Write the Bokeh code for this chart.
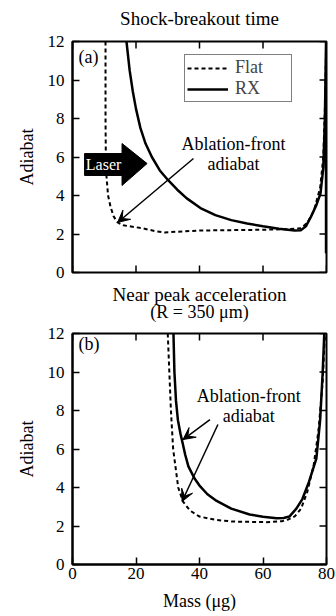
from bokeh.plotting import figure
from bokeh.models import Legend, LegendItem, Label, Arrow, VeeHead, FixedTicker
from bokeh.layouts import column
from bokeh.embed import file_html
from bokeh.resources import INLINE

FONT = "Liberation Serif"

# ---------------- data ----------------
x_ticks = [0, 20, 40, 60, 80]
y_ticks = [0, 2, 4, 6, 8, 10, 12]

# (a) Shock-breakout time
a_flat_mass = [10.4, 10.4, 10.5, 10.7, 11.2, 12.0, 13.0, 14.2, 16.0, 18.0, 22.0, 26.0,
               29.0, 33.0, 40.0, 50.0, 60.0, 68.0, 72.0, 74.0, 76.0, 78.0, 79.0, 79.6, 79.9]
a_flat_adiabat = [12.0, 8.0, 6.0, 5.0, 4.0, 3.4, 2.9, 2.6, 2.45, 2.4, 2.3, 2.15,
                  2.08, 2.12, 2.18, 2.2, 2.22, 2.25, 2.3, 2.6, 3.2, 4.4, 6.0, 9.0, 12.0]
a_rx_mass = [17.0, 18.0, 19.0, 20.0, 21.4, 23.0, 25.0, 27.5, 30.2, 33.0, 36.0, 40.3,
             45.0, 50.0, 55.0, 60.0, 65.0, 70.0, 72.0, 73.5, 75.0, 76.8, 78.1, 79.0,
             79.5, 79.85, 79.85]
a_rx_adiabat = [12.0, 10.5, 9.4, 8.5, 7.5, 6.7, 6.0, 5.3, 4.78, 4.3, 3.85, 3.35,
                2.98, 2.72, 2.55, 2.4, 2.27, 2.18, 2.2, 2.4, 2.86, 3.5, 4.1, 5.45,
                8.0, 12.0, 1.0]

# (b) Near peak acceleration (R = 350 um)
b_flat_mass = [30.0, 30.5, 31.0, 31.7, 33.3, 34.8, 37.0, 40.0, 45.0, 50.5, 61.0, 66.0,
               68.0, 70.0, 72.0, 74.0, 76.0, 77.5, 78.8, 79.5]
b_flat_adiabat = [12.0, 10.0, 8.0, 6.0, 4.0, 3.27, 2.8, 2.49, 2.32, 2.23, 2.2, 2.25,
                  2.34, 2.5, 2.9, 3.8, 5.2, 7.0, 9.5, 12.0]
b_rx_mass = [31.8, 32.1, 32.6, 33.2, 34.0, 34.7, 35.5, 36.5, 38.5, 40.0, 42.5, 45.4,
             50.0, 55.8, 60.0, 64.3, 66.5, 68.3, 70.5, 72.4, 74.5, 76.8, 78.0, 78.8, 79.3]
b_rx_adiabat = [12.0, 10.0, 8.5, 7.5, 6.8, 6.3, 5.7, 5.1, 4.45, 4.1, 3.65, 3.3,
                2.9, 2.6, 2.48, 2.4, 2.42, 2.49, 2.9, 3.4, 4.3, 5.5, 7.5, 10.0, 12.0]

# panel titles (header rows: x, y as fraction of header height, text, size)
a_title = [(40.0, 0.40, "Shock-breakout time", "19px")]
b_title = [(40.0, 0.725, "Near peak acceleration", "19px"),
           (40.0, 0.2875, "(R = 350 \u03bcm)", "18px")]
# annotations (data units)
laser_x = [3.8, 15.6, 15.6, 23.5, 15.6, 15.6, 3.8]
laser_y = [6.18, 6.18, 6.7, 5.66, 4.52, 5.04, 5.04]
a_arrow = [(38.1, 5.92, 14.2, 2.6)]
b_arrows = [(43.3, 7.53, 34.8, 6.49), (45.8, 7.27, 34.5, 3.27)]

FRAME_W, FRAME_H = 254, 231
TICK_PX = 7
X0, X1, Y0, Y1 = 0, 80, 0, 12
tx = TICK_PX / FRAME_W * (X1 - X0)
ty = TICK_PX / FRAME_H * (Y1 - Y0)


def add_text(p, x, y, text, size="18px", color="black", align="center"):
    p.add_layout(Label(x=x, y=y, text=text, text_font=FONT, text_font_size=size,
                       text_color=color, text_align=align, text_baseline="middle"))


def make_header(height, titles):
    h = figure(width=336, height=height, x_range=(X0, X1), y_range=(0, 1),
               output_backend="svg", toolbar_location=None,
               x_axis_type=None, y_axis_type=None,
               min_border_left=72, min_border_right=10,
               min_border_top=0, min_border_bottom=0)
    h.xgrid.visible = False
    h.ygrid.visible = False
    h.outline_line_color = None
    h.background_fill_color = "white"
    h.border_fill_color = "white"
    for x, y, t, s in titles:
        add_text(h, x, y, t, size=s)
    return h


def make_fig(height, top, bottom, show_x_axis):
    p = figure(width=336, height=height, x_range=(X0, X1), y_range=(Y0, Y1),
               output_backend="svg", toolbar_location=None,
               min_border_left=72, min_border_right=10,
               min_border_top=top, min_border_bottom=bottom)
    p.xgrid.visible = False
    p.ygrid.visible = False
    p.outline_line_color = "black"
    p.outline_line_width = 2
    p.background_fill_color = "white"
    p.border_fill_color = "white"
    for ax in (p.xaxis[0], p.yaxis[0]):
        ax.axis_line_width = 2
        ax.major_tick_in = TICK_PX
        ax.major_tick_out = 0
        ax.major_tick_line_width = 1.5
        ax.minor_tick_line_color = None
        ax.major_label_text_font = FONT
        ax.major_label_text_font_size = "17px"
        ax.major_label_text_color = "black"
        ax.axis_label_text_font = FONT
        ax.axis_label_text_font_style = "normal"
        ax.axis_label_text_font_size = "18px"
        ax.axis_label_text_color = "black"
    p.xaxis.ticker = FixedTicker(ticks=x_ticks)
    p.yaxis.ticker = FixedTicker(ticks=y_ticks)
    p.yaxis.major_label_standoff = 8
    p.yaxis.axis_label = "Adiabat"
    p.yaxis.axis_label_standoff = 8
    if show_x_axis:
        p.xaxis.major_label_standoff = 3
        p.xaxis.axis_label = "Mass (\u03bcg)"
        p.xaxis.axis_label_standoff = 9
    else:
        p.xaxis.visible = False
        # inward bottom ticks without labels
        p.segment(x0=x_ticks, y0=[Y0] * len(x_ticks), x1=x_ticks,
                  y1=[Y0 + ty] * len(x_ticks), line_color="black", line_width=1.5)
    # mirrored inward ticks on top and right
    p.segment(x0=x_ticks, y0=[Y1] * len(x_ticks), x1=x_ticks,
              y1=[Y1 - ty] * len(x_ticks), line_color="black", line_width=1.5)
    p.segment(x0=[X1] * len(y_ticks), y0=y_ticks, x1=[X1 - tx] * len(y_ticks),
              y1=y_ticks, line_color="black", line_width=1.5)
    return p


# ---------------- panel (a) ----------------
h1 = make_header(30, a_title)
p1 = make_fig(253, 11, 11, False)
r_flat = p1.line(a_flat_mass, a_flat_adiabat, line_color="black", line_width=2,
                 line_dash="4 3")
r_rx = p1.line(a_rx_mass, a_rx_adiabat, line_color="black", line_width=2.5)
p1.patch(laser_x, laser_y, fill_color="black", line_color="black")
add_text(p1, 9.8, 5.6, "Laser", size="16px", color="white")
add_text(p1, 1.9, 11.17, "(a)", align="left")
add_text(p1, 50.7, 6.7, "Ablation-front")
add_text(p1, 50.7, 5.66, "adiabat")
for x0, y0, x1, y1 in a_arrow:
    p1.add_layout(Arrow(x_start=x0, y_start=y0, x_end=x1, y_end=y1, line_width=1.5,
                        end=VeeHead(size=12, fill_color="black", line_color="black")))
legend = Legend(items=[LegendItem(label="Flat", renderers=[r_flat]),
                       LegendItem(label="RX", renderers=[r_rx])],
                location=(112, 170), glyph_width=41, glyph_height=18, label_height=18,
                label_width=54, spacing=0, padding=2, label_standoff=7,
                label_text_font=FONT, label_text_font_size="18px",
                label_text_line_height=1.0,
                border_line_color="black", border_line_width=1.5,
                background_fill_alpha=1.0, margin=0)
p1.add_layout(legend)

# ---------------- panel (b) ----------------
h2 = make_header(40, b_title)
p2 = make_fig(293, 10, 52, True)
p2.line(b_flat_mass, b_flat_adiabat, line_color="black", line_width=2, line_dash="4 3")
p2.line(b_rx_mass, b_rx_adiabat, line_color="black", line_width=2.5)
add_text(p2, 1.9, 11.43, "(b)", align="left")
add_text(p2, 55.5, 8.73, "Ablation-front")
add_text(p2, 55.5, 7.69, "adiabat")
for x0, y0, x1, y1 in b_arrows:
    p2.add_layout(Arrow(x_start=x0, y_start=y0, x_end=x1, y_end=y1, line_width=1.5,
                        end=VeeHead(size=12, fill_color="black", line_color="black")))

layout = column(h1, p1, h2, p2, spacing=0)
open("out.html", "w").write(file_html(layout, INLINE))
